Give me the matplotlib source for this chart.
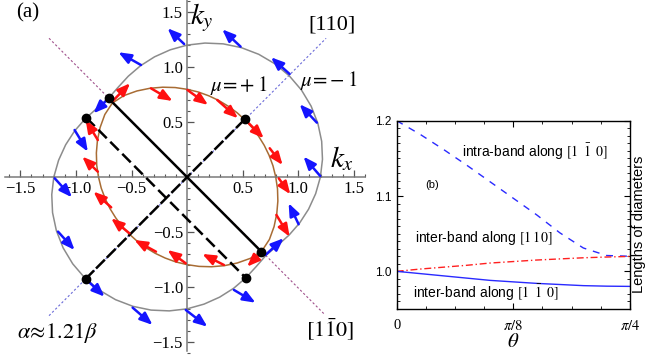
import numpy as np
import matplotlib
matplotlib.use("Agg")
import matplotlib.pyplot as plt

plt.rcParams["mathtext.fontset"] = "stix"
plt.rcParams["font.family"] = ["Liberation Serif", "DejaVu Serif"]

# ---------------- panel (a) data ----------------
# Fermi contours: radius read every 7.5 deg from 0 to 172.5 (same again from 180 on)
half_deg = [0, 7.5, 15, 22.5, 30, 37.5, 45, 52.5, 60, 67.5, 75, 82.5,
            90, 97.5, 105, 112.5, 120, 127.5, 135, 142.5, 150, 157.5, 165, 172.5]
inner_r = [0.797, 0.779, 0.763, 0.751, 0.742, 0.737, 0.735, 0.737, 0.742, 0.751, 0.763, 0.779,
           0.797, 0.820, 0.845, 0.873, 0.903, 0.933, 0.951, 0.933, 0.903, 0.873, 0.845, 0.820]
outer_r = [1.199, 1.228, 1.253, 1.273, 1.288, 1.297, 1.300, 1.297, 1.288, 1.273, 1.253, 1.228,
           1.199, 1.166, 1.131, 1.095, 1.058, 1.024, 1.005, 1.024, 1.058, 1.095, 1.131, 1.166]

# spin arrows (tail on contour -> head)
blue_tails = [(-0.027, 1.209), (0.481, 1.185), (-0.415, 1.018), (0.922, 0.936),
              (1.167, 0.494), (1.197, 0.009), (1.003, -0.430), (0.705, -0.709),
              (0.421, -1.027), (-0.012, -1.209), (-0.490, -1.188), (-0.893, -0.945),
              (-1.161, -0.497), (-1.191, -0.012), (-1.012, 0.427), (-0.722, 0.700)]
blue_heads = [(-0.176, 1.352), (0.316, 1.342), (-0.618, 1.134), (0.755, 1.088),
              (1.012, 0.661), (1.047, 0.185), (0.913, -0.239), (0.868, -0.557),
              (0.615, -1.143), (0.182, -1.361), (-0.311, -1.345), (-0.743, -1.088),
              (-1.012, -0.664), (-1.036, -0.185), (-0.893, 0.230), (-0.842, 0.579)]
red_tails = [(0.003, 0.791), (0.271, 0.700), (0.555, 0.488), (0.743, 0.261),
             (0.824, -0.012), (0.803, -0.345), (0.645, -0.709), (0.331, -0.800),
             (-0.012, -0.785), (-0.280, -0.679), (-0.519, -0.512), (-0.683, -0.276),
             (-0.803, 0.048), (-0.803, 0.336), (-0.669, 0.691), (-0.325, 0.806)]
red_heads = [(0.188, 0.655), (0.457, 0.534), (0.689, 0.352), (0.859, 0.109),
             (0.928, -0.157), (0.922, -0.543), (0.540, -0.815), (0.137, -0.700),
             (-0.176, -0.664), (-0.474, -0.573), (-0.683, -0.376), (-0.842, -0.133),
             (-0.943, 0.185), (-0.913, 0.518), (-0.513, 0.852), (-0.131, 0.691)]

# diameters and their end points
solid_x, solid_y = [-0.707, 0.668], [0.715, -0.679]
dashed_x, dashed_y = [-0.907, 0.531], [0.539, -0.921]
diag_x, diag_y = [0.519, -0.913], [0.525, -0.927]
dir_1m10_x, dir_1m10_y = [-1.242, 1.242], [1.261, -1.255]
dir_110_x, dir_110_y = [-1.242, 1.25], [-1.261, 1.261]

ticks_a = [-1.5, -1.0, -0.5, 0.5, 1.0, 1.5]
tick_labels_a = ["\u22121.5", "\u22121.0", "\u22120.5", "0.5", "1.0", "1.5"]

# ---------------- panel (b) data ----------------
theta_frac = [0, 0.1, 0.2, 0.3, 0.4, 0.5, 0.6, 0.7, 0.8, 0.9, 1.0]  # units of pi/4
intra_1m10 = [1.200, 1.182, 1.162, 1.141, 1.119, 1.097, 1.075, 1.051, 1.031, 1.021, 1.020]
inter_110 = [1.000, 1.003, 1.0055, 1.008, 1.011, 1.013, 1.015, 1.0165, 1.018, 1.019, 1.0198]
inter_1m10 = [1.000, 0.997, 0.994, 0.991, 0.988, 0.986, 0.984, 0.9825, 0.981, 0.9803, 0.980]


fig = plt.figure(figsize=(6.49, 3.6), dpi=100)

# ---------------- panel (a) ----------------
ax = fig.add_axes([0, 0, 365 / 649, 1])
ax.set_xlim(-1.683, 1.585)
ax.set_ylim(-1.664, 1.609)
for side in ("top", "right"):
    ax.spines[side].set_visible(False)
ax.spines["left"].set_position("zero")
ax.spines["bottom"].set_position("zero")
ax.spines["left"].set_bounds(-1.58, 1.609)
ax.spines["bottom"].set_bounds(-1.64, 1.6)
for side in ("left", "bottom"):
    ax.spines[side].set_color("#7a7a7a")
    ax.spines[side].set_linewidth(1.1)

minor_a = [t / 10 for t in range(-16, 17) if t % 5]
ax.set_xticks(ticks_a, tick_labels_a)
ax.set_yticks(ticks_a, tick_labels_a)
ax.set_xticks(minor_a, minor=True)
ax.set_yticks(minor_a, minor=True)
ax.tick_params(which="both", direction="in", color="#555555", labelsize=12, pad=3)
ax.tick_params(which="major", length=5, width=0.9)
ax.tick_params(which="minor", length=2.5, width=0.8)

deg = np.deg2rad(half_deg + [d + 180 for d in half_deg] + [360])
r_in = np.array(inner_r + inner_r + inner_r[:1])
r_out = np.array(outer_r + outer_r + outer_r[:1])
ax.plot(r_out * np.cos(deg), r_out * np.sin(deg), color="#8c8c8c", lw=1.1, zorder=2)
ax.plot(r_in * np.cos(deg), r_in * np.sin(deg), color="#a86c34", lw=1.1, zorder=2)

ax.plot(dir_1m10_x, dir_1m10_y, color="#a0508c", lw=0.8, ls=(0, (2, 2)), zorder=1)
ax.plot(dir_110_x, dir_110_y, color="#6a6ad8", lw=0.8, ls=(0, (2, 2)), zorder=1)

ax.plot(solid_x, solid_y, color="k", lw=1.8, zorder=3)
ax.plot(dashed_x, dashed_y, color="k", lw=1.8, ls=(0, (4.8, 2)), zorder=3)
ax.plot(diag_x, diag_y, color="k", lw=1.8, ls=(0, (5, 1.1)), zorder=3)

for tails, heads, col in ((blue_tails, blue_heads, "#1414ff"),
                          (red_tails, red_heads, "#ff1010")):
    for (tx, ty), (hx, hy) in zip(tails, heads):
        ax.annotate("", xy=(hx, hy), xytext=(tx, ty), zorder=4,
                    arrowprops=dict(arrowstyle="-|>,head_length=0.75,head_width=0.3",
                                    color=col, lw=1.8, shrinkA=0, shrinkB=0,
                                    mutation_scale=10))

ax.plot(solid_x + dashed_x + diag_x, solid_y + dashed_y + diag_y, "o",
        color="k", ms=6, zorder=5)

ax.text(1.39, 0.17, r"$k_x$", fontsize=21, ha="center", va="center")
ax.text(0.13, 1.45, r"$k_y$", fontsize=21, ha="center", va="center")
ax.text(0.466, 0.836, r"$\mu\!=\!+1$", fontsize=15, ha="center", va="center")
ax.text(1.27, 0.88, r"$\mu\!=\!-1$", fontsize=15, ha="center", va="center")
ax.text(1.30, 1.38, "[110]", fontsize=16, ha="center", va="center")
ax.text(1.29, -1.39, r"$[1\bar{1}0]$", fontsize=16, ha="center", va="center")
ax.text(-1.17, -1.42, r"$\alpha\!\approx\!1.21\beta$", fontsize=16, ha="center", va="center")
ax.text(-1.43, 1.49, "(a)", fontsize=15, ha="center", va="center")

# ---------------- panel (b) ----------------
axb = fig.add_axes([0.6112, 0.1417, 0.3595, 0.523])
theta = np.array(theta_frac) * np.pi / 4
axb.plot(theta, intra_1m10, color="#2a2aff", lw=1.0, ls=(0, (5, 5)))
axb.plot(theta, inter_110, color="#ff2020", lw=1.0, ls=(0, (5, 2, 1, 2)))
axb.plot(theta, inter_1m10, color="#2a2aff", lw=1.0)
axb.set_xlim(0, np.pi / 4)
axb.set_ylim(0.95, 1.2)
axb.set_xticks([0, np.pi / 8, np.pi / 4], ["0", r"$\pi/8$", r"$\pi/4$"])
axb.set_xticks([k * np.pi / 32 for k in range(9)], minor=True)
axb.set_yticks([1.0, 1.1, 1.2], ["1.0", "1.1", "1.2"])
axb.set_yticks([0.95 + k / 100 for k in range(26)], minor=True)
axb.tick_params(which="both", direction="in", top=True, right=True)
axb.tick_params(which="major", length=4, width=0.8)
axb.tick_params(which="minor", length=2, width=0.6)
axb.tick_params(axis="x", labelsize=10.5, pad=7)
axb.tick_params(axis="y", labelsize=8.5, pad=4)
for lab in axb.get_yticklabels():
    lab.set_family("Liberation Sans")
for s in axb.spines.values():
    s.set_linewidth(1.0)
axb.set_xlabel(r"$\theta$", fontsize=15, labelpad=0)

sans = "Liberation Sans"
axb.text(0.279 * np.pi / 4, 1.1585, r"intra-band along $[1\;\;\bar{1}\;\;0]$",
         family=sans, fontsize=10, ha="left", va="center")
axb.text(0.154 * np.pi / 4, 1.1145, "(b)", family=sans, fontsize=8, ha="center", va="center")
axb.text(0.078 * np.pi / 4, 1.044, r"inter-band along $[1\,1\,0]$",
         family=sans, fontsize=10, ha="left", va="center")
axb.text(0.071 * np.pi / 4, 0.9715, r"inter-band along $[1\;\;\bar{1}\;\;0]$",
         family=sans, fontsize=10, ha="left", va="center")

fig.text(639 / 649, 0.378, "Lengths of diameters", rotation=90, family=sans,
         fontsize=10.5, ha="center", va="center")

fig.savefig("out.png", dpi=100)
